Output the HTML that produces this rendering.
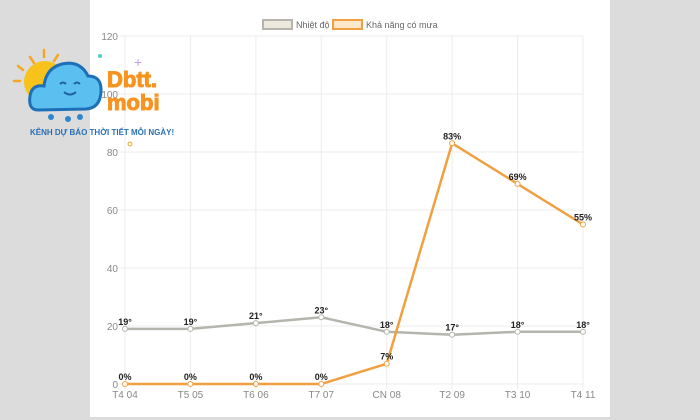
<!DOCTYPE html>
<html><head><meta charset="utf-8"><style>
body{margin:0;width:700px;height:420px;background:#dcdcdc;overflow:hidden;font-family:"Liberation Sans",sans-serif}
#panel{position:absolute;left:90px;top:0;width:520px;height:417px;background:#fff}
svg{position:absolute;left:0;top:0}
</style></head><body>
<div id="panel"></div>
<svg id="chart" width="700" height="420"></svg>
<svg width="200" height="160" style="left:0;top:0">
  <g stroke="#f5a623" stroke-width="2.5" stroke-linecap="round">
    <line x1="30" y1="57" x2="34" y2="63"/><line x1="44" y1="50" x2="44" y2="57"/><line x1="58" y1="55" x2="54" y2="61"/><line x1="14" y1="81" x2="20" y2="81"/><line x1="18" y1="66" x2="23" y2="70"/>
  </g>
  <circle cx="45" cy="82" r="21" fill="#f8c21c"/>
  <path d="M38 110 Q28 110 30 96 Q32 84 44 86 Q46 68 62 64 Q80 60 88 76 Q102 76 101 92 Q100 108 86 109 Z" fill="#5bc0f0" stroke="#1d6fb8" stroke-width="3"/>
  <path d="M60 84 q3 -3 6 0 M74 84 q3 -3 6 0 M64 92 q6 5 12 0" stroke="#1d5fa0" stroke-width="2" fill="none"/>
  <g fill="#2f86d0"><circle cx="51" cy="117" r="3"/><circle cx="68" cy="119" r="3"/><circle cx="80" cy="117" r="3"/></g>
  <text x="107" y="87" font-size="22" font-weight="bold" fill="#f7931e" stroke="#f7931e" stroke-width="1">Dbtt.</text>
  <text x="107" y="110" font-size="22" font-weight="bold" fill="#f7931e" stroke="#f7931e" stroke-width="1">mobi</text>
  <text x="30" y="135" font-size="8" font-weight="bold" fill="#2a6fb5">KÊNH DỰ BÁO THỜI TIẾT MỖI NGÀY!</text>
  <circle cx="100" cy="56" r="2" fill="#4dd0c8"/><text x="134" y="67" font-size="14" fill="#c9a0e8">+</text><circle cx="130" cy="144" r="2" stroke="#f5a623" fill="none"/>
</svg>
<script>
const categories=["T4 04","T5 05","T6 06","T7 07","CN 08","T2 09","T3 10","T4 11"];
const temps=[19,19,21,23,18,17,18,18];
const rain=[0,0,0,0,7,83,69,55];
const yTicks=[0,20,40,60,80,100,120];
const svg=document.getElementById('chart');const NS='http://www.w3.org/2000/svg';
const x0=125,x1=583,yTop=36,yBot=384,yMax=120;
const X=i=>x0+i*(x1-x0)/(categories.length-1);
const Y=v=>yBot-v*(yBot-yTop)/yMax;
function mk(t,a,txt){const e=document.createElementNS(NS,t);for(const k in a)e.setAttribute(k,a[k]);if(txt!==undefined)e.textContent=txt;svg.appendChild(e);return e;}
yTicks.forEach(v=>{const l=mk('line',{x1:x0-6,x2:x1,y1:Y(v),y2:Y(v),stroke:'#ececec'});


const t=mk('text',{x:x0-7,y:Y(v)+4,'font-size':10,fill:'#888','text-anchor':'end'},v);

});
categories.forEach((c,i)=>{const l=mk('line',{x1:X(i),x2:X(i),y1:yTop,y2:yBot+5,stroke:'#ececec'});


const t=mk('text',{x:X(i),y:yBot+14,'font-size':10,fill:'#888','text-anchor':'middle'},c);

});
function series(vals,color,name,suffix){
const p=mk('polyline',{points:vals.map((v,i)=>X(i)+','+Y(v)).join(' '),fill:'none',stroke:color,'stroke-width':2.5});


vals.forEach((v,i)=>{const c=mk('circle',{cx:X(i),cy:Y(v),r:2.5,fill:'#fff',stroke:color,'stroke-width':1});


const t=mk('text',{x:X(i),y:Y(v)-4,'font-size':9,'font-weight':'bold',fill:'#222','text-anchor':'middle'},v+suffix);

});}
series(temps,'#b5b5ad','temperature','°');
series(rain,'#f0a040','rain-chance','%');
const lg=[['Nhiệt độ','#b5b5ad','#ece9dc',263],['Khả năng có mưa','#f0a040','#fde8cc',333]];
lg.forEach(l=>{const r=mk('rect',{x:l[3],y:20,width:29,height:9,fill:l[2],stroke:l[1],'stroke-width':2});


const t=mk('text',{x:l[3]+33,y:28,'font-size':9,fill:'#666'},l[0]);

});
</script>
</body></html>
